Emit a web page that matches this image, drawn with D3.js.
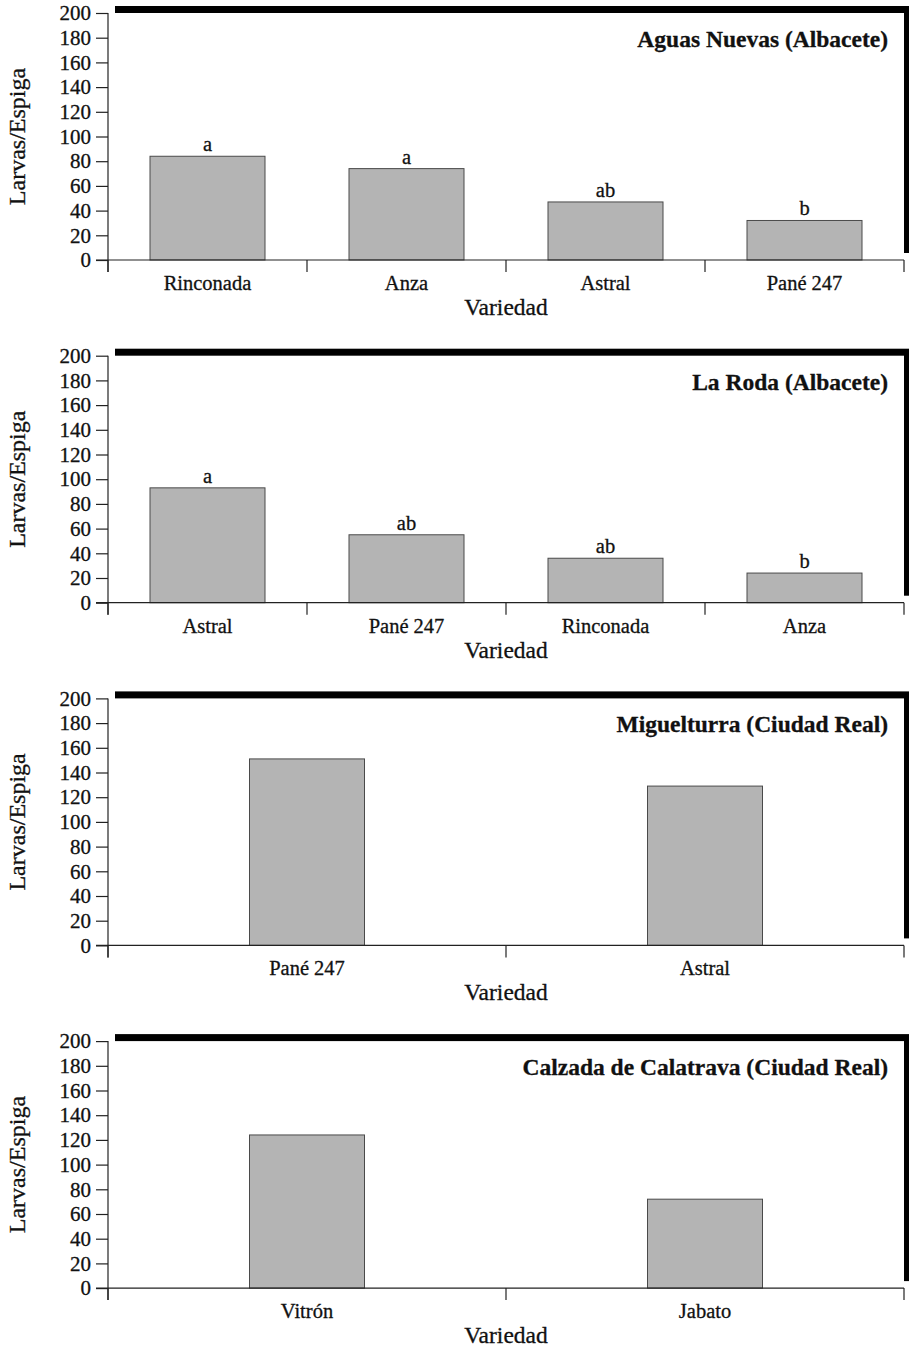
<!DOCTYPE html>
<html><head><meta charset="utf-8">
<script src="https://cdn.jsdelivr.net/npm/d3@7"></script>
<style>
body{margin:0;background:#fff}
svg{display:block}
text{font-family:"Liberation Serif","Times New Roman",serif;fill:#111;stroke:#111;stroke-width:0.3px}
</style></head>
<body><svg id="c" width="909" height="1347"></svg>
<script>
// ---- data ----
const titles = ["Aguas Nuevas (Albacete)", "La Roda (Albacete)", "Miguelturra (Ciudad Real)", "Calzada de Calatrava (Ciudad Real)"];
const cats1 = ["Rinconada", "Anza", "Astral", "Pané 247"];
const vals1 = [84, 74, 47, 32];
const letters1 = ["a", "a", "ab", "b"];
const cats2 = ["Astral", "Pané 247", "Rinconada", "Anza"];
const vals2 = [93, 55, 36, 24];
const letters2 = ["a", "ab", "ab", "b"];
const cats3 = ["Pané 247", "Astral"];
const vals3 = [151, 129];
const letters3 = [];
const cats4 = ["Vitrón", "Jabato"];
const vals4 = [124, 72];
const letters4 = [];
const yTicks = [0, 20, 40, 60, 80, 100, 120, 140, 160, 180, 200];
const yLabel = "Larvas/Espiga";
const xLabel = "Variedad";

const panels = [
  {title: titles[0], cats: cats1, vals: vals1, letters: letters1},
  {title: titles[1], cats: cats2, vals: vals2, letters: letters2},
  {title: titles[2], cats: cats3, vals: vals3, letters: letters3},
  {title: titles[3], cats: cats4, vals: vals4, letters: letters4}
];

// ---- layout ----
const svg = d3.select("#c");
const left = 108, right = 904, plotH = 247, top0 = 13, step = 342.7;
const barW = 115, shadow = 7;
const fs = 20.5;

panels.forEach((p, i) => {
  const top = top0 + i * step;
  const bottom = top + plotH;
  const g = svg.append("g");

  const x = d3.scaleBand().domain(p.cats).range([left, right]).padding(0);
  const y = d3.scaleLinear().domain([0, 200]).range([bottom, top]);

  // drop shadow frame
  g.append("rect").attr("x", left + shadow).attr("y", top - shadow)
    .attr("width", right - left).attr("height", plotH).attr("fill", "#000");
  g.append("rect").attr("x", left).attr("y", top)
    .attr("width", right - left).attr("height", plotH).attr("fill", "#fff");

  // bars
  g.selectAll("rect.bar").data(p.cats).join("rect").attr("class", "bar")
    .attr("x", d => x(d) + x.bandwidth() / 2 - barW / 2)
    .attr("width", barW)
    .attr("y", (d, j) => y(p.vals[j]))
    .attr("height", (d, j) => y(0) - y(p.vals[j]))
    .attr("fill", "#b4b4b4").attr("stroke", "#4a4a4a").attr("stroke-width", 1);

  // significance letters
  g.selectAll("text.let").data(p.letters).join("text").attr("class", "let")
    .attr("x", (d, j) => x(p.cats[j]) + x.bandwidth() / 2)
    .attr("y", (d, j) => y(p.vals[j]) - 5)
    .attr("text-anchor", "middle").attr("font-size", fs).text(d => d);

  // y axis
  const ya = g.append("g").attr("transform", `translate(${left},0)`)
    .call(d3.axisLeft(y).tickValues(yTicks).tickSize(12).tickPadding(5).tickFormat(d3.format("d")));
  ya.select(".domain").remove();
  ya.selectAll(".tick line").attr("stroke", "#222").attr("stroke-width", 1.2);
  ya.selectAll(".tick text").attr("font-size", 21).attr("fill", "#111");
  g.append("line").attr("x1", left).attr("x2", left).attr("y1", top).attr("y2", bottom + 12)
    .attr("stroke", "#222").attr("stroke-width", 1.2);

  // x axis: baseline, boundary ticks, category labels
  g.append("line").attr("x1", left - 12).attr("x2", right).attr("y1", bottom).attr("y2", bottom)
    .attr("stroke", "#222").attr("stroke-width", 1.2);
  const bounds = p.cats.map(c => x(c)).concat([x(p.cats[p.cats.length - 1]) + x.bandwidth()]);
  g.selectAll("line.bt").data(bounds).join("line").attr("class", "bt")
    .attr("x1", d => d).attr("x2", d => d).attr("y1", bottom).attr("y2", bottom + 12)
    .attr("stroke", "#222").attr("stroke-width", 1.2);
  g.selectAll("text.cat").data(p.cats).join("text").attr("class", "cat")
    .attr("x", d => x(d) + x.bandwidth() / 2).attr("y", bottom + 30)
    .attr("text-anchor", "middle").attr("font-size", fs).text(d => d);

  g.append("text").attr("x", (left + right) / 2).attr("y", bottom + 55)
    .attr("text-anchor", "middle").attr("font-size", 23.5).text(xLabel);

  g.append("text").attr("transform", `translate(25,${(top + bottom) / 2}) rotate(-90)`)
    .attr("text-anchor", "middle").attr("font-size", 24).text(yLabel);

  // title
  g.append("text").attr("x", 888).attr("y", top + 34)
    .attr("text-anchor", "end").attr("font-size", 23.5).attr("font-weight", "bold").text(p.title);
});
</script>
</body></html>
